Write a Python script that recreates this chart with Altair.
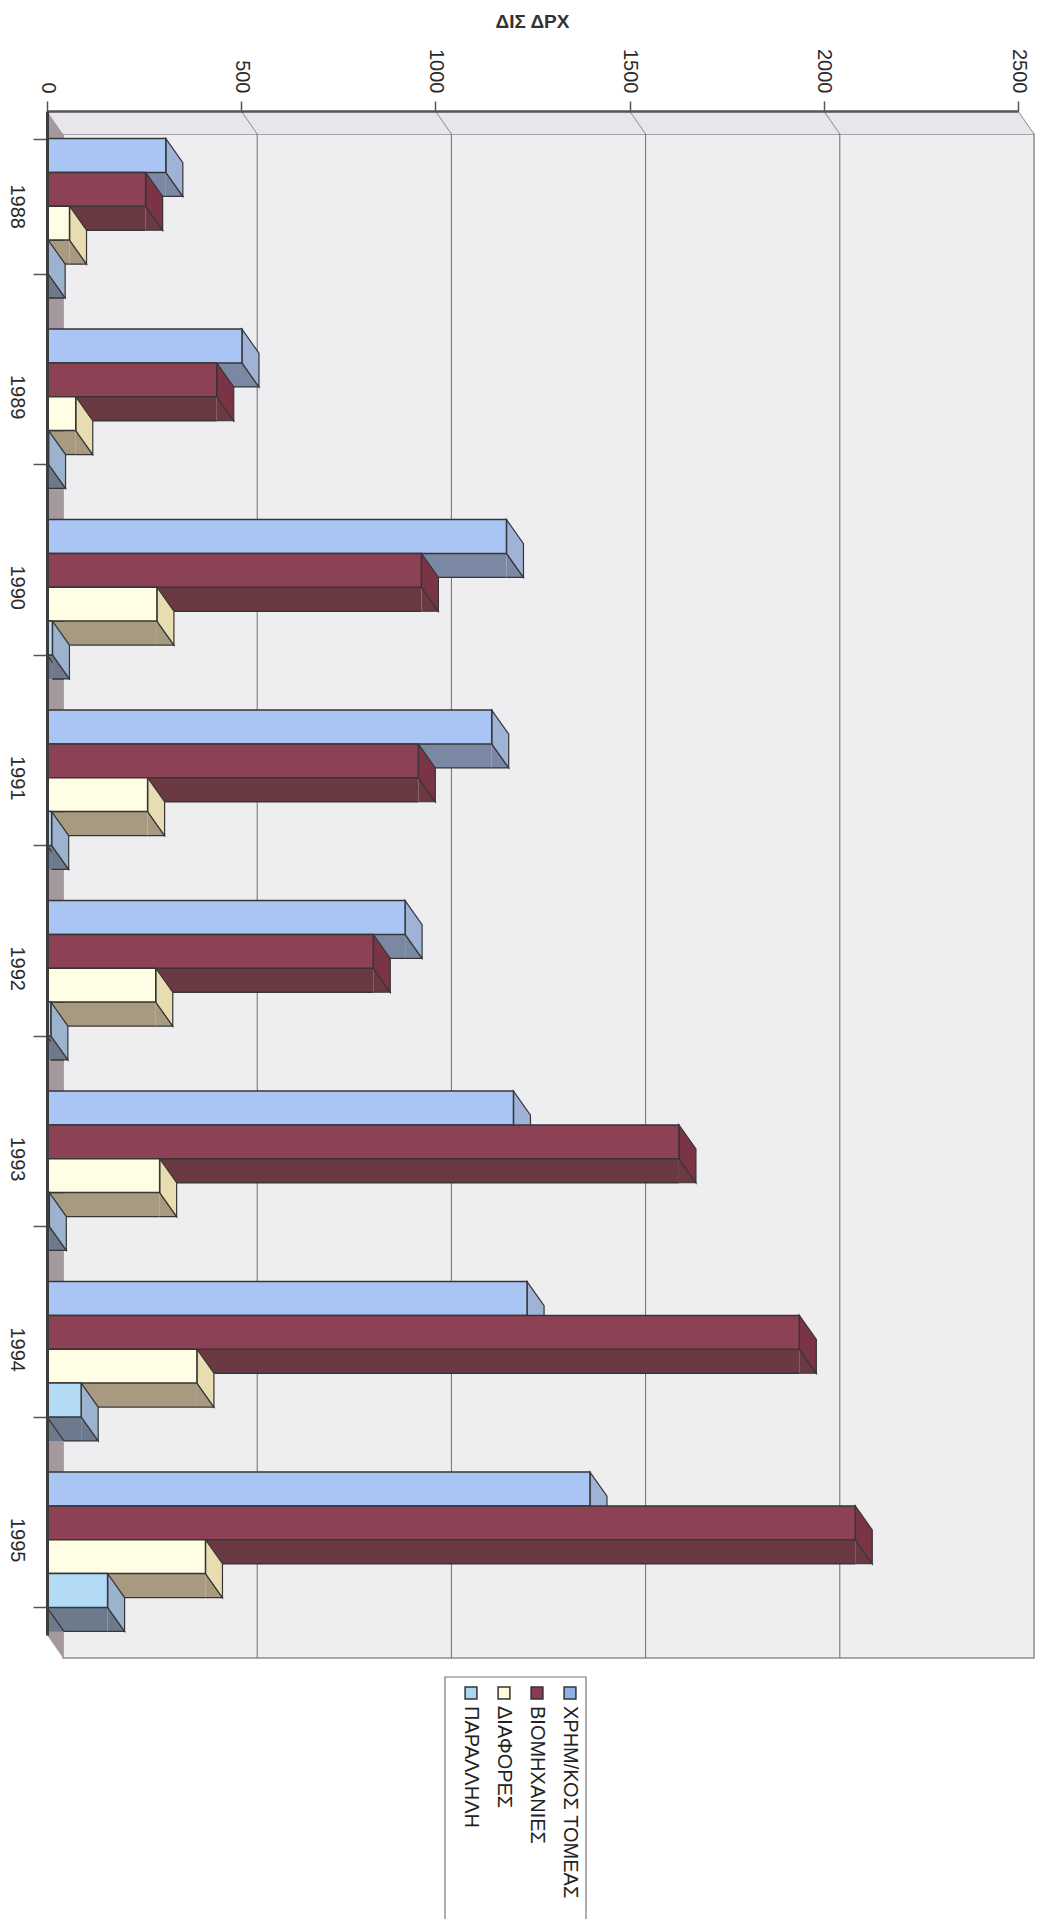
import altair as alt
import pandas as pd

# ---------------- data ----------------
years = ["1988", "1989", "1990", "1991", "1992", "1993", "1994", "1995"]
series = ["ΧΡΗΜ/ΚΟΣ ΤΟΜΕΑΣ", "ΒΙΟΜΗΧΑΝΙΕΣ", "ΔΙΑΦΟΡΕΣ", "ΠΑΡΑΛΛΗΛΗ"]
financial = [306, 502, 1183, 1145, 922, 1201, 1236, 1398]
industry = [254, 437, 964, 956, 840, 1627, 1937, 2081]
misc = [58, 74, 283, 259, 280, 290, 386, 408]
parallel = [3, 4, 14, 12, 10, 6, 88, 156]
value_ticks = [0, 500, 1000, 1500, 2000, 2500]
grid_values = [500, 1000, 1500, 2000]
slant_values = [500, 1000, 1500, 2000, 2500]
title_text = "ΔΙΣ ΔΡΧ"

series_values = [financial, industry, misc, parallel]
one = pd.DataFrame({"a": [0], "b": [2500]})
grid_df = pd.DataFrame({"g": grid_values})
slant_df = pd.DataFrame({"g": slant_values})

# ---------------- styling / geometry ----------------
FONT = "Liberation Sans"
W, H = 971, 1524
PI, PO = 0.29, 0.145
step = H / (len(years) - PI + 2 * PO)
bw = step * (1 - PI)
sub = bw / len(series)
hh = sub / 2
DX, DY = 17, 24      # bar depth
WX, WY = 16, 23      # wall depth

FRONT = ["#a9c5f3", "#8c4155", "#fffde3", "#b3dbf5"]
SIDE = ["#9fb3d7", "#7b3446", "#e7ddb1", "#9cb3cf"]
BOTTOM = ["#7b88a4", "#6b3942", "#a79a80", "#6d798c"]
LEGEND = ["#8fb0e8", "#8b3a50", "#fffbd6", "#a9d6f2"]
EDGE = "#363636"

xs = alt.Scale(domain=[0, 2500], nice=False, zero=True)
ys = alt.Scale(domain=years, paddingInner=PI, paddingOuter=PO)

x_axis = alt.Axis(orient="top", values=value_ticks, format="d", labelAngle=90,
                  labelAlign="right", labelBaseline="middle", labelFont=FONT,
                  labelFontSize=20, labelColor="#2b2b2b", labelPadding=8,
                  labelFlush=False, tickSize=10,
                  tickColor="#555555", tickWidth=1.5, domainColor="#555555",
                  domainWidth=2.5, grid=False, title="", zindex=1)
y_axis = alt.Axis(orient="left", labelAngle=90, labelAlign="center",
                  labelBaseline="top", labelFont=FONT, labelFontSize=20,
                  labelColor="#2b2b2b", labelPadding=7, tickBand="extent",
                  tickSize=14, tickColor="#555555", tickWidth=1.5,
                  domainColor="#3c3c3c", domainWidth=3, title="", zindex=1)

XV = alt.X("value:Q", scale=xs, axis=x_axis)
YV = alt.Y("year:N", scale=ys, axis=y_axis)

# ---------------- walls ----------------
back_wall = alt.Chart(one).mark_rect(
    fill="#eeeef1", stroke="#8e8e8e", strokeWidth=1.5, xOffset=WX, x2Offset=WX
).encode(x=alt.X("a:Q", scale=xs, axis=x_axis), x2=alt.X2("b"),
         y=alt.value(WY), y2=alt.value(H + WY))

top_wall = alt.Chart(one).mark_point(
    shape=f"M0,0 L{W},0 L{W + WX},{WY} L{WX},{WY} Z", size=4, filled=True,
    fill="#e7e7eb", opacity=1, strokeWidth=0
).encode(x=alt.value(0), y=alt.value(0))

floor = alt.Chart(one).mark_point(
    shape=f"M0,0 L{WX},{WY} L{WX},{H + WY} L0,{H} Z", size=4, filled=True,
    fill="#a6989f", opacity=1, strokeWidth=0
).encode(x=alt.value(0), y=alt.value(0))

grid = alt.Chart(grid_df).mark_rule(color="#6f6f6f", strokeWidth=1, xOffset=WX).encode(
    x=alt.X("g:Q", scale=xs, axis=x_axis), y=alt.value(WY), y2=alt.value(H + WY))

slants = alt.Chart(slant_df).mark_point(
    shape=f"M0,0 L{WX},{WY}", size=4, filled=False, color="#8a8a8a", opacity=1,
    strokeWidth=1
).encode(x=alt.X("g:Q", scale=xs, axis=x_axis), y=alt.value(0))

# ---------------- 3D bars (one set of layers per series) ----------------
bottoms, sides, fronts = [], [], []
for k, (s, vals) in enumerate(zip(series, series_values)):
    d = alt.Chart(pd.DataFrame({"year": years, "value": vals}))
    c_off = (k + 0.5) * sub - bw / 2                 # centre of this bar vs band centre
    b_off = (k + 1) * sub + DY / 2 - bw / 2          # centre of its bottom face
    # bottom face: straight part, its lower edge, then its two slanted ends
    bottoms.append(d.mark_bar(size=DY, color=BOTTOM[k], x2Offset=DX, yOffset=b_off).encode(
        x=XV, y=YV))
    bottoms.append(d.mark_rule(color=EDGE, strokeWidth=1.3, yOffset=b_off + DY / 2).encode(
        x=XV, x2=alt.value(DX), y=YV))
    bottoms.append(d.mark_point(
        shape=f"M{DX},{hh:.2f} L0,{hh:.2f} L{DX},{hh + DY:.2f}", size=4, filled=True,
        fill=BOTTOM[k], opacity=1, stroke=EDGE, strokeWidth=1.2, yOffset=c_off
    ).encode(x=alt.value(0), y=YV))
    bottoms.append(d.mark_point(
        shape=f"M0,{hh:.2f} L{DX},{hh + DY:.2f} L0,{hh + DY:.2f}", size=4, filled=True,
        fill=BOTTOM[k], opacity=1, stroke=EDGE, strokeWidth=1.2, yOffset=c_off
    ).encode(x=XV, y=YV))
    # side face (parallelogram)
    sides.append(d.mark_point(
        shape=f"M0,{-hh:.2f} L{DX},{-hh + DY:.2f} L{DX},{hh + DY:.2f} L0,{hh:.2f} Z",
        size=4, filled=True, fill=SIDE[k], opacity=1, stroke=EDGE, strokeWidth=1.2,
        yOffset=c_off
    ).encode(x=XV, y=YV))
    # front face
    fronts.append(d.mark_bar(size=sub, color=FRONT[k], stroke=EDGE, strokeWidth=1.5,
                             yOffset=c_off).encode(x=XV, y=YV))

# ---------------- legend ----------------
leg_x = [523, 490, 457, 424]
legend_layers = [alt.Chart(one).mark_rect(fill="white", stroke="#777777", strokeWidth=1.2).encode(
    x=alt.value(398), x2=alt.value(539), y=alt.value(1566), y2=alt.value(1840))]
for k, s in enumerate(series):
    legend_layers.append(alt.Chart(one).mark_square(
        size=140, filled=True, opacity=1, color=LEGEND[k], stroke="#333333", strokeWidth=1.5
    ).encode(x=alt.value(leg_x[k]), y=alt.value(1582)))
    legend_layers.append(alt.Chart(one).mark_text(
        text=s, angle=90, align="left", baseline="middle", font=FONT, fontSize=20,
        color="#222222"
    ).encode(x=alt.value(leg_x[k]), y=alt.value(1595)))

chart = alt.layer(
    back_wall, top_wall, floor, grid, slants,
    *bottoms, *sides, *fronts, *legend_layers
).properties(
    width=W, height=H,
    padding={"left": 47, "top": 111, "right": 21, "bottom": 284},
    autosize=alt.AutoSizeParams(type="none"),
    title=alt.TitleParams(text=title_text, anchor="middle", font=FONT,
                          fontSize=19, fontWeight="bold", color="#333333", offset=17),
).configure_view(stroke="transparent")

chart.save("out.html", embed_options={"renderer": "svg", "actions": False})
